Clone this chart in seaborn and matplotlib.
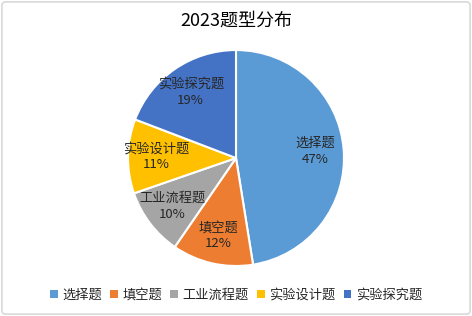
import matplotlib
matplotlib.use("Agg")
import matplotlib.pyplot as plt
import seaborn as sns
import numpy as np
from matplotlib.patches import FancyBboxPatch, Patch

# 数据
categories = ['选择题', '填空题', '工业流程题', '实验设计题', '实验探究题']
values = [47, 12, 10, 11, 19]
colors = ['#5B9BD5', '#ED7D31', '#A5A5A5', '#FFC000', '#4472C4']
title = '2023题型分布'

sns.set_theme(style='white')
plt.rcParams['font.family'] = ['Noto Sans CJK SC', 'DejaVu Sans']

fig = plt.figure(figsize=(4.72, 3.16), dpi=100)
fig.patch.set_facecolor('white')

# 外边框
border = FancyBboxPatch((0.004, 0.006), 0.992, 0.988,
                        boxstyle='round,pad=0,rounding_size=0.01',
                        transform=fig.transFigure, fill=False,
                        edgecolor='#D9D9D9', linewidth=1.2)
fig.patches.append(border)

ax = fig.add_axes([0.5 - 0.2288, 0.5 - 0.3418, 0.4576, 0.6835])

wedges = ax.pie(values, colors=colors, startangle=90, counterclock=False,
                wedgeprops=dict(edgecolor='white', linewidth=1.5))[0]
ax.set_xlim(-1.0, 1.0)
ax.set_ylim(-1.0, 1.0)
ax.set_aspect('equal')

# 标签
total = sum(values)
for w, name, v in zip(wedges, categories, values):
    mid = np.deg2rad((w.theta1 + w.theta2) / 2)
    r = 0.74
    ax.text(r * np.cos(mid), r * np.sin(mid), f'{name}\n{v / total * 100:.0f}%',
            ha='center', va='center', fontsize=9.5, color='#262626',
            linespacing=1.3)

fig.text(0.5, 0.935, title, ha='center', va='center', fontsize=13, color='black')

handles = [Patch(facecolor=c, edgecolor='none') for c in colors]
fig.legend(handles, categories, loc='center', bbox_to_anchor=(0.5, 0.066),
           ncol=5, frameon=False, fontsize=9.5, handlelength=0.6, handleheight=0.6,
           handletextpad=0.35, columnspacing=0.6, labelcolor='#262626')

fig.savefig('out.png', dpi=100)
